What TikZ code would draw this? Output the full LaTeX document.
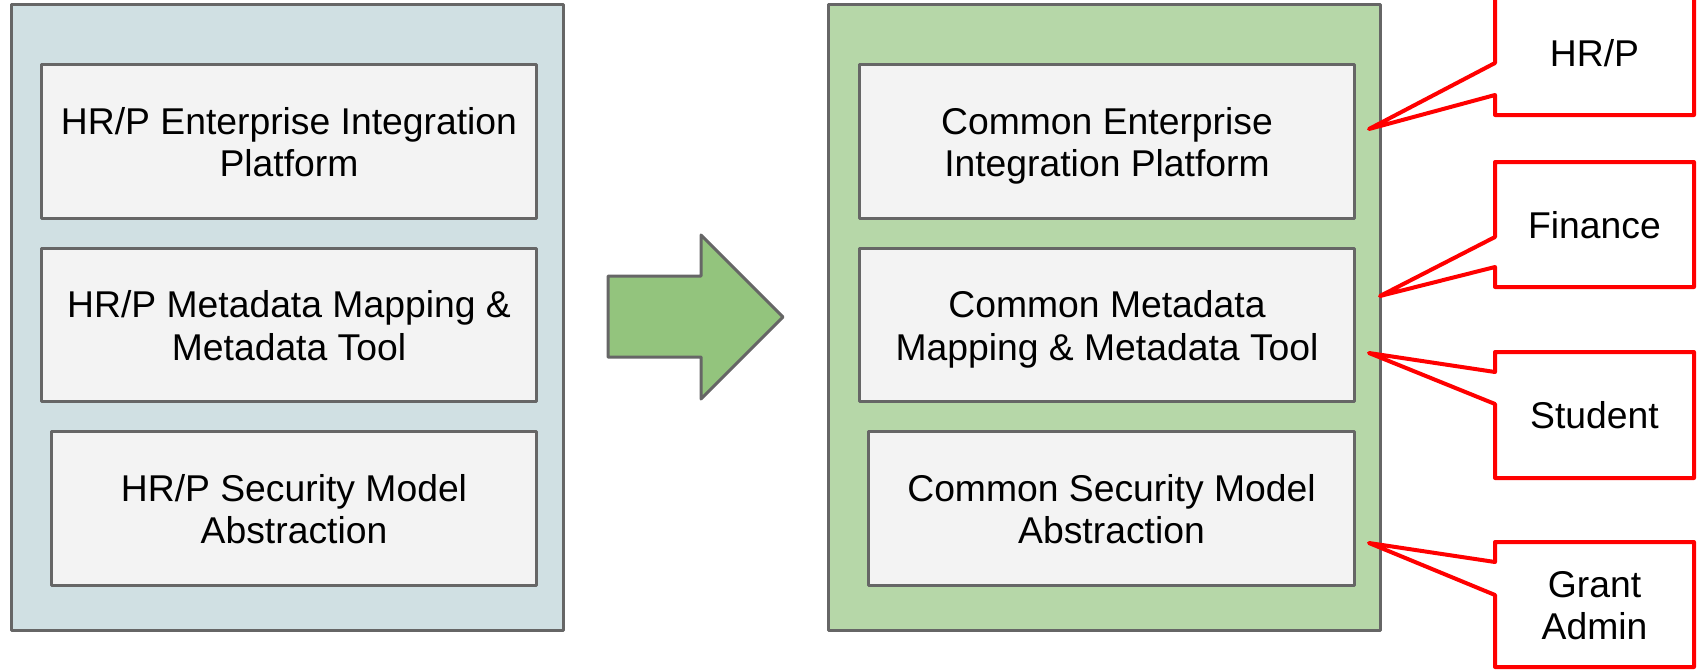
\documentclass[tikz,border=0pt]{standalone}
\usepackage{fontspec}
\setmainfont{Liberation Sans}
\definecolor{bordergray}{HTML}{666666}
\definecolor{leftfill}{HTML}{D0E0E3}
\definecolor{rightfill}{HTML}{B6D7A8}
\definecolor{arrowfill}{HTML}{93C47D}
\definecolor{innerfill}{HTML}{F3F3F3}
\definecolor{calloutred}{HTML}{FF0000}
\tikzset{
  outerbox/.style={draw=bordergray, line width=3pt, line join=round},
  innerbox/.style={draw=bordergray, fill=innerfill, line width=3pt, line join=round, inner sep=0pt, anchor=north west},
  bigarrow/.style={draw=bordergray, fill=arrowfill, line width=3pt, line join=round},
  calloutshape/.style={draw=calloutred, fill=white, line width=4pt, line join=round},
  linetext/.style={inner sep=0pt, anchor=base, font=\fontsize{37.3}{43}\selectfont},
  firstline/.style={linetext, yshift=7.4pt},
  secondline/.style={linetext, yshift=-35.1pt},
  oneline/.style={linetext, yshift=-13.8pt}
}
\begin{document}
\begin{tikzpicture}[x=1pt,y=-1pt]
\useasboundingbox (0,0) rectangle (1698,670);
\clip (0,0) rectangle (1698,670);
% outer panels
\draw[outerbox, fill=leftfill] (11,4) rectangle (563,630);
\draw[outerbox, fill=rightfill] (828,4) rectangle (1380,630);
% left inner boxes
\node[innerbox, minimum width=495pt, minimum height=154pt] (l1) at (40,63) {};
\node[innerbox, minimum width=495pt, minimum height=153pt] (l2) at (40,247) {};
\node[innerbox, minimum width=485pt, minimum height=154pt] (l3) at (50,430) {};
\node[firstline] (l1a) at (l1.center) {HR/P Enterprise Integration};
\node[secondline] (l1b) at (l1.center) {Platform};
\node[firstline] (l2a) at (l2.center) {HR/P Metadata Mapping \&};
\node[secondline] (l2b) at (l2.center) {Metadata Tool};
\node[firstline] (l3a) at (l3.center) {HR/P Security Model};
\node[secondline] (l3b) at (l3.center) {Abstraction};
% right inner boxes
\node[innerbox, minimum width=495pt, minimum height=154pt] (r1) at (858,63) {};
\node[innerbox, minimum width=495pt, minimum height=153pt] (r2) at (858,247) {};
\node[innerbox, minimum width=486pt, minimum height=154pt] (r3) at (867,430) {};
\node[firstline] (r1a) at (r1.center) {Common Enterprise};
\node[secondline] (r1b) at (r1.center) {Integration Platform};
\node[firstline] (r2a) at (r2.center) {Common Metadata};
\node[secondline] (r2b) at (r2.center) {Mapping \& Metadata Tool};
\node[firstline] (r3a) at (r3.center) {Common Security Model};
\node[secondline] (r3b) at (r3.center) {Abstraction};
% big arrow
\draw[bigarrow] (608,276) -- (701,276) -- (701,235) -- (783,317) -- (701,399) -- (701,357) -- (608,357) -- cycle;
% callouts
\draw[calloutshape] (1495,-10) -- (1495,63) -- (1369,129) -- (1495,95) -- (1495,115) -- (1694,115) -- (1694,-10) -- cycle;
\coordinate (c1) at (1594.5,52.5);
\node[oneline] (c1t) at (c1) {HR/P};
\draw[calloutshape] (1495,162) -- (1495,237) -- (1380,296) -- (1495,267) -- (1495,287) -- (1694,287) -- (1694,162) -- cycle;
\coordinate (c2) at (1594.5,224.5);
\node[oneline] (c2t) at (c2) {Finance};
\draw[calloutshape] (1495,352) -- (1495,372) -- (1369,353) -- (1495,404) -- (1495,478) -- (1694,478) -- (1694,352) -- cycle;
\coordinate (c3) at (1594.5,415);
\node[oneline] (c3t) at (c3) {Student};
\draw[calloutshape] (1495,542) -- (1495,562) -- (1369,543) -- (1495,595) -- (1495,667) -- (1694,667) -- (1694,542) -- cycle;
\coordinate (c4) at (1594.5,604.5);
\node[firstline] (c4a) at (c4) {Grant};
\node[secondline] (c4b) at (c4) {Admin};
\end{tikzpicture}
\end{document}
